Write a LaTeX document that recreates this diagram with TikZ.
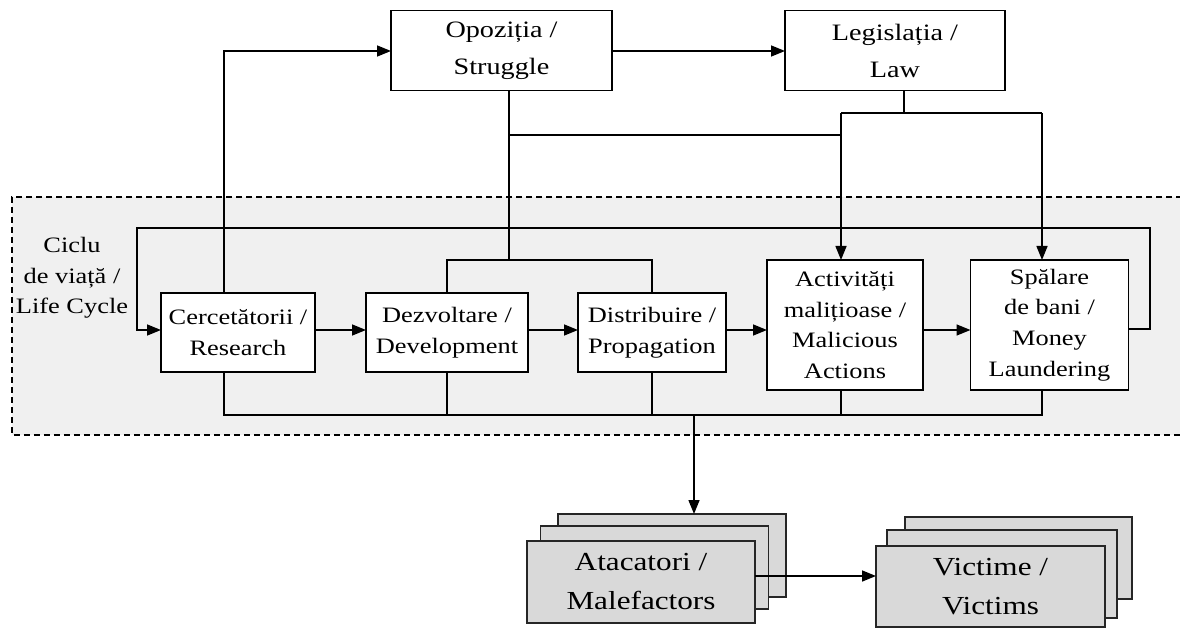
\documentclass[tikz,border=0pt]{standalone}
\usepackage{fontspec}
\setmainfont{Liberation Serif}[FakeStretch=1.2]
\usetikzlibrary{arrows.meta}
\newcommand\fmid{\fontsize{22}{30.7}\selectfont}
\newcommand\ftop{\fontsize{23.5}{37}\selectfont}
\newcommand\fbot{\fontsize{26}{39}\selectfont}
\begin{document}
\begin{tikzpicture}[x=1pt,y=-1pt,
  line width=1.5pt,
  box/.style={draw=black, fill=white, align=center, inner sep=1pt, outer sep=0pt, font=\fmid},
  topbox/.style={box, font=\ftop},
  stackbox/.style={draw=black!85, fill=black!15, align=center, inner sep=1pt, outer sep=0pt, font=\fbot, minimum width=228pt},
  arr/.style={-{Triangle[length=14pt,width=11pt]}},
  wire/.style={line join=miter}
]
\useasboundingbox (0,0) rectangle (1180,628);
% life cycle container
\fill[black!6] (12,197) rectangle (1182,435);
\draw[dash pattern=on 6pt off 4pt, line width=1.3pt] (1182,197) -- (12,197) -- (12,435) -- (1182,435);
\node[align=center, font=\fmid, inner sep=0pt] (cyc) at (72,278) {Ciclu\\de viață /\\Life Cycle};

% top boxes
\node[topbox, minimum width=221pt, minimum height=80pt] (opoz) at (501.5,50.5) {Opoziția /\\Struggle};
\node[topbox, minimum width=220pt, minimum height=80pt] (legis) at (895,50.5) {Legislația /\\Law};

% process boxes
\node[box, minimum width=154pt, minimum height=79pt] (cerc) at (238,332.5) {Cercetătorii /\\Research};
\node[box, minimum width=162pt, minimum height=79pt] (dezv) at (447,332.5) {Dezvoltare /\\Development};
\node[box, minimum width=148pt, minimum height=79pt] (distr) at (652,332.5) {Distribuire /\\Propagation};
\node[box, minimum width=156pt, minimum height=130pt] (activ) at (845,325) {Activități\\malițioase /\\Malicious\\Actions};
\node[box, minimum width=158pt, minimum height=130pt] (spal) at (1049.5,325) {Spălare\\de bani /\\Money\\Laundering};

% chain arrows
\draw[arr] (cerc.east |- 0,330) -- (dezv.west |- 0,330);
\draw[arr] (dezv.east |- 0,330) -- (distr.west |- 0,330);
\draw[arr] (distr.east |- 0,330) -- (activ.west |- 0,330);
\draw[arr] (activ.east |- 0,330) -- (spal.west |- 0,330);

% loop back
\draw[arr, wire] (spal.east |- 0,329) -- (1150,329) -- (1150,228) -- (137,228) -- (137,330) -- (cerc.west |- 0,330);

% research -> struggle -> law
\draw[arr, wire] (cerc.north -| 224,0) -- (224,51) -- (opoz.west |- 0,51);
\draw[arr] (opoz.east |- 0,51) -- (legis.west |- 0,51);

% struggle down to development/propagation
\coordinate (oj) at (509,260);
\draw[wire] (opoz.south -| 509,0) -- (oj);
\draw[wire] (dezv.north) -- (dezv.north |- oj) -- (distr.north |- oj) -- (distr.north);
\draw (509,135) -- (841,135);

% law down to malicious actions / money laundering
\draw[wire] (legis.south -| 904,0) -- (904,113);
\draw[wire] (841,113) -- (1042,113);
\draw[arr] (841,113) -- (activ.north -| 841,0);
\draw[arr] (1042,113) -- (spal.north -| 1042,0);

% bottom bus
\coordinate (bus) at (694,415);
\draw[wire] (cerc.south -| 224,0) -- (224,415) -- (1042,415) -- (spal.south -| 1042,0);
\draw (dezv.south) -- (dezv.south |- bus);
\draw (distr.south |- 0,372) -- (distr.south |- bus);
\draw (activ.south -| 841,0) -- (841,415);

% attackers stack
\node[stackbox, minimum height=83pt] (atacC) at (672,555.5) {};
\node[stackbox, minimum height=83pt] (atacB) at (654.5,567.5) {};
\node[stackbox, minimum height=82pt] (atac) at (641,582) {Atacatori /\\Malefactors};
\draw[arr] (bus) -- (bus |- atacC.north);

% victims stack
\node[stackbox, minimum width=227pt, minimum height=82pt] (victC) at (1018.5,558) {};
\node[stackbox, minimum width=230pt, minimum height=88pt] (victB) at (1002,574) {};
\node[stackbox, minimum width=229pt, minimum height=81pt] (vict) at (990.5,586.5) {Victime /\\Victims};
\draw[arr] (atac.east |- 0,576) -- (vict.west |- 0,576);
\end{tikzpicture}
\end{document}
